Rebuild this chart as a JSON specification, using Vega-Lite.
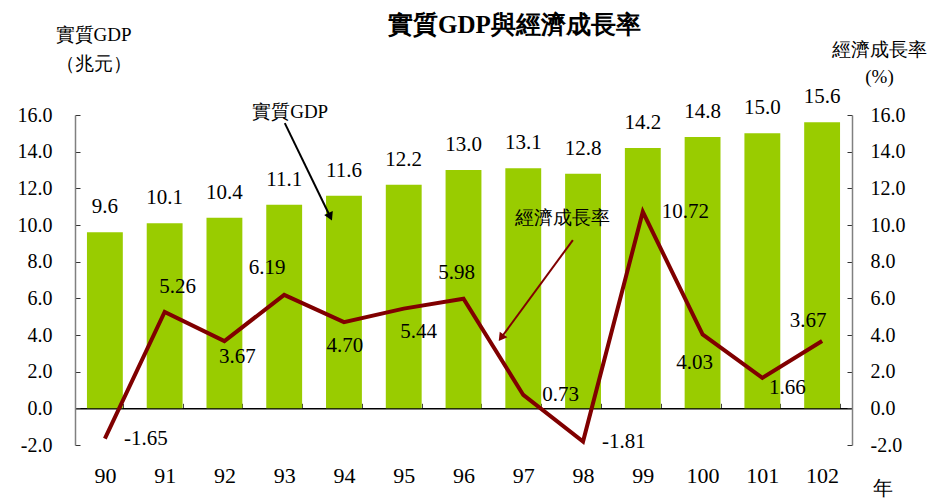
{
  "$schema": "https://vega.github.io/schema/vega-lite/v6.json",
  "width": 777,
  "height": 330,
  "autosize": {"type": "none"},
  "padding": {"left": 75, "top": 115, "right": 89, "bottom": 54},
  "config": {
    "font": "Liberation Serif, serif",
    "view": {"stroke": null},
    "locale": {"number": {"decimal": ".", "thousands": ",", "grouping": [3], "currency": ["$", ""], "minus": "-"}},
    "text": {"font": "Liberation Serif, serif", "fontSize": 21, "color": "black"}
  },
  "title": {
    "text": "實質GDP與經濟成長率",
    "font": "Liberation Serif, serif",
    "fontSize": 25,
    "fontWeight": "bold",
    "color": "black",
    "anchor": "middle",
    "baseline": "middle",
    "offset": -25,
    "dx": 51
  },
  "datasets": {
    "main": [
      {"year": "90", "gdp": 9.6, "growth": -1.65},
      {"year": "91", "gdp": 10.1, "growth": 5.26},
      {"year": "92", "gdp": 10.4, "growth": 3.67},
      {"year": "93", "gdp": 11.1, "growth": 6.19},
      {"year": "94", "gdp": 11.6, "growth": 4.70},
      {"year": "95", "gdp": 12.2, "growth": 5.44},
      {"year": "96", "gdp": 13.0, "growth": 5.98},
      {"year": "97", "gdp": 13.1, "growth": 0.73},
      {"year": "98", "gdp": 12.8, "growth": -1.81},
      {"year": "99", "gdp": 14.2, "growth": 10.72},
      {"year": "100", "gdp": 14.8, "growth": 4.03},
      {"year": "101", "gdp": 15.0, "growth": 1.66},
      {"year": "102", "gdp": 15.6, "growth": 3.67}
    ],
    "notes": [
      {"label": "實質GDP", "x": 93.10, "y": 16.16},
      {"label": "經濟成長率", "x": 97.66, "y": 10.38}
    ],
    "arrowGdp": [{"x": 93.01, "y": 15.56, "x2": 93.77, "y2": 10.45}],
    "arrowGrowth": [{"x": 97.83, "y": 9.18, "x2": 96.63, "y2": 3.85}]
  },
  "layer": [
    {
      "data": {"name": "main"},
      "encoding": {
        "x": {
          "field": "year", "type": "nominal", "sort": null,
          "scale": {"paddingInner": 0.4, "paddingOuter": 0.2},
          "axis": {
            "title": "年", "titleX": 807, "titleY": 80, "titleAngle": 0,
            "titleAlign": "center", "titleBaseline": "middle",
            "titleFontSize": 20, "titleFontWeight": "normal", "titleColor": "black",
            "titleFont": "Liberation Serif, serif",
            "labelAngle": 0, "labelFontSize": 22, "labelColor": "black",
            "labelFont": "Liberation Serif, serif",
            "labelBaseline": "middle", "labelPadding": 72,
            "offset": -36.7,
            "domainColor": "black", "domainWidth": 1.5,
            "ticks": true, "tickBand": "extent", "tickSize": -5, "tickColor": "#444",
            "grid": false
          }
        },
        "y": {
          "field": "gdp", "type": "quantitative",
          "scale": {"domain": [-2, 16], "nice": false, "zero": false},
          "axis": {
            "values": [-2, 0, 2, 4, 6, 8, 10, 12, 14, 16],
            "format": ".1f",
            "title": ["實質GDP", "（兆元）"],
            "titleAngle": 0, "titleX": 18, "titleY": -90,
            "titleAlign": "center", "titleBaseline": "top",
            "titleLineHeight": 29, "titleFontSize": 19, "titleFontWeight": "normal",
            "titleColor": "black", "titleFont": "Liberation Serif, serif",
            "labelFontSize": 20, "labelColor": "black", "labelFont": "Liberation Serif, serif",
            "labelPadding": 28,
            "tickSize": -5, "tickColor": "#333",
            "domainColor": "#808080", "domainWidth": 1.5,
            "grid": false
          }
        }
      },
      "layer": [
        {"mark": {"type": "bar", "color": "#99CC00"}},
        {
          "mark": {"type": "text", "baseline": "alphabetic", "dy": -19, "fontSize": 21},
          "encoding": {"text": {"field": "gdp", "type": "quantitative", "format": ".1f"}}
        }
      ]
    },
    {
      "data": {"name": "main"},
      "encoding": {
        "x": {
          "field": "year", "type": "nominal", "sort": null,
          "scale": {"paddingInner": 0.4, "paddingOuter": 0.2},
          "axis": null
        },
        "y": {
          "field": "growth", "type": "quantitative",
          "scale": {"domain": [-2, 16], "nice": false, "zero": false},
          "axis": {
            "orient": "right",
            "values": [-2, 0, 2, 4, 6, 8, 10, 12, 14, 16],
            "format": ".1f",
            "title": ["經濟成長率", "(%)"],
            "titleAngle": 0, "titleX": 27, "titleY": -75,
            "titleAlign": "center", "titleBaseline": "top",
            "titleLineHeight": 27, "titleFontSize": 19, "titleFontWeight": "normal",
            "titleColor": "black", "titleFont": "Liberation Serif, serif",
            "labelFontSize": 20, "labelColor": "black", "labelFont": "Liberation Serif, serif",
            "labelPadding": 23,
            "tickSize": -5, "tickColor": "#333",
            "domainColor": "#808080", "domainWidth": 1.5,
            "grid": false
          }
        },
        "text": {"field": "growth", "type": "quantitative", "format": ".2f"}
      },
      "layer": [
        {"mark": {"type": "line", "color": "#800000", "strokeWidth": 4}, "encoding": {"text": null}},
        {"transform": [{"filter": {"field": "year", "oneOf": ["90", "97", "98", "99"]}}],
         "mark": {"type": "text", "align": "left", "baseline": "middle", "dx": 19, "dy": 0}},
        {"transform": [{"filter": {"field": "year", "equal": "91"}}],
         "mark": {"type": "text", "baseline": "middle", "dx": 13, "dy": -25}},
        {"transform": [{"filter": {"field": "year", "equal": "92"}}],
         "mark": {"type": "text", "baseline": "middle", "dx": 13, "dy": 16}},
        {"transform": [{"filter": {"field": "year", "equal": "93"}}],
         "mark": {"type": "text", "baseline": "middle", "dx": -17, "dy": -27}},
        {"transform": [{"filter": {"field": "year", "equal": "94"}}],
         "mark": {"type": "text", "baseline": "middle", "dx": 1, "dy": 24}},
        {"transform": [{"filter": {"field": "year", "equal": "95"}}],
         "mark": {"type": "text", "baseline": "middle", "dx": 15, "dy": 23}},
        {"transform": [{"filter": {"field": "year", "equal": "96"}}],
         "mark": {"type": "text", "baseline": "middle", "dx": -7, "dy": -26}},
        {"transform": [{"filter": {"field": "year", "equal": "100"}}],
         "mark": {"type": "text", "baseline": "middle", "dx": -8, "dy": 29}},
        {"transform": [{"filter": {"field": "year", "equal": "101"}}],
         "mark": {"type": "text", "baseline": "middle", "dx": 25, "dy": 10}},
        {"transform": [{"filter": {"field": "year", "equal": "102"}}],
         "mark": {"type": "text", "baseline": "middle", "dx": -14, "dy": -20}}
      ]
    },
    {
      "layer": [
        {
          "data": {"name": "notes"},
          "mark": {"type": "text", "baseline": "middle", "fontSize": 19, "color": "black"},
          "encoding": {
            "x": {"field": "x", "type": "quantitative", "scale": {"domain": [89.5, 102.5], "nice": false, "zero": false}, "axis": null},
            "y": {"field": "y", "type": "quantitative", "scale": {"domain": [-2, 16], "nice": false, "zero": false}, "axis": null},
            "text": {"field": "label"}
          }
        },
        {
          "data": {"name": "arrowGdp"},
          "mark": {"type": "rule", "color": "black", "strokeWidth": 2},
          "encoding": {
            "x": {"field": "x", "type": "quantitative"},
            "y": {"field": "y", "type": "quantitative"},
            "x2": {"field": "x2"},
            "y2": {"field": "y2"}
          }
        },
        {
          "data": {"name": "arrowGdp"},
          "mark": {"type": "point", "shape": "triangle-down", "filled": true, "color": "black", "size": 90, "angle": -25, "opacity": 1},
          "encoding": {
            "x": {"field": "x2", "type": "quantitative"},
            "y": {"field": "y2", "type": "quantitative"}
          }
        },
        {
          "data": {"name": "arrowGrowth"},
          "mark": {"type": "rule", "color": "#800000", "strokeWidth": 2},
          "encoding": {
            "x": {"field": "x", "type": "quantitative"},
            "y": {"field": "y", "type": "quantitative"},
            "x2": {"field": "x2"},
            "y2": {"field": "y2"}
          }
        },
        {
          "data": {"name": "arrowGrowth"},
          "mark": {"type": "point", "shape": "triangle-down", "filled": true, "color": "#800000", "size": 90, "angle": 36, "opacity": 1},
          "encoding": {
            "x": {"field": "x2", "type": "quantitative"},
            "y": {"field": "y2", "type": "quantitative"}
          }
        }
      ]
    }
  ],
  "resolve": {
    "scale": {"x": "independent", "y": "independent"},
    "axis": {"x": "independent", "y": "independent"}
  }
}
